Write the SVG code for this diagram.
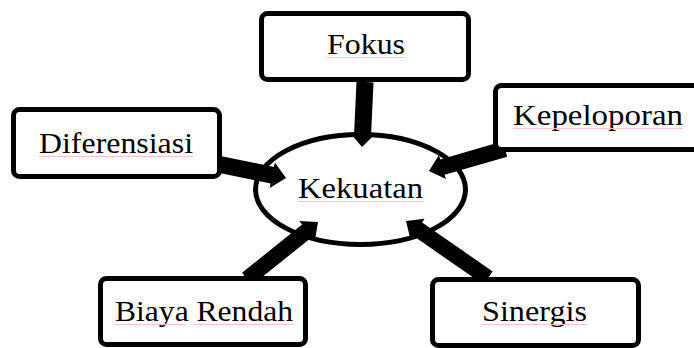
<svg xmlns="http://www.w3.org/2000/svg" width="694" height="348" viewBox="0 0 694 348">
<style>
.box{fill:#fff;stroke:#000;stroke-width:5}
.lbl{font-size:29px;fill:#000}
.arr{fill:#000;stroke:none}
.sq{stroke:#f8c4c4;stroke-width:1;fill:none}
</style>
<rect width="694" height="348" fill="#fff"/>
<g id="kekuatan">
<ellipse class="box" cx="360.5" cy="189.5" rx="105" ry="55"/>
</g>
<g id="connectors">
<polygon class="arr" points="356.5,81.6 354.1,133.6 350.6,133.4 362,147 374.6,134.6 371.1,134.4 373.5,82.4"/>
<polygon class="arr" points="218.3,172.8 270.6,183.5 269.7,187.9 286,178 274.9,162.5 274.0,166.9 221.7,156.2"/>
<polygon class="arr" points="502.8,141.3 440.2,159.4 438.9,155.1 429,171 445.9,179.1 444.6,174.8 507.2,156.7"/>
<polygon class="arr" points="252.0,285.2 312.1,237.0 314.9,240.5 318,222 299.3,221.1 302.1,224.6 242.0,272.8"/>
<polygon class="arr" points="492.6,271.4 422.1,222.4 424.6,218.7 406,221 410.4,239.3 412.9,235.6 483.4,284.6"/>
</g>
<g id="fokus">
<rect class="box" x="261.5" y="13.5" width="207" height="66" rx="6"/>
<text class="lbl" font-family="Liberation Serif, serif" x="327" y="54" textLength="78" lengthAdjust="spacingAndGlyphs">Fokus</text>
<line class="sq" x1="327" y1="57.5" x2="405" y2="57.5"/>
</g>
<g id="diferensiasi">
<rect class="box" x="13.5" y="109.5" width="206" height="67" rx="6"/>
<text class="lbl" font-family="Liberation Serif, serif" x="39" y="153" textLength="154" lengthAdjust="spacingAndGlyphs">Diferensiasi</text>
<line class="sq" x1="39" y1="156.5" x2="193" y2="156.5"/>
</g>
<g id="kepeloporan">
<rect class="box" x="495.5" y="85.5" width="210" height="64" rx="6"/>
<text class="lbl" font-family="Liberation Serif, serif" x="513" y="125" textLength="170" lengthAdjust="spacingAndGlyphs">Kepeloporan</text>
<line class="sq" x1="513" y1="128.5" x2="683" y2="128.5"/>
</g>
<g id="kekuatan-label">
<text class="lbl" font-family="Liberation Serif, serif" x="298" y="198" textLength="125" lengthAdjust="spacingAndGlyphs">Kekuatan</text>
<line class="sq" x1="298" y1="201.5" x2="423" y2="201.5"/>
</g>
<g id="biaya-rendah">
<rect class="box" x="100.5" y="278.5" width="205" height="66" rx="6"/>
<text class="lbl" font-family="Liberation Serif, serif" x="115" y="321" textLength="178" lengthAdjust="spacingAndGlyphs">Biaya Rendah</text>
<line class="sq" x1="115" y1="324.5" x2="186" y2="324.5"/>
<line class="sq" x1="194" y1="324.5" x2="293" y2="324.5"/>
</g>
<g id="sinergis">
<rect class="box" x="432.5" y="279.5" width="206" height="66" rx="6"/>
<text class="lbl" font-family="Liberation Serif, serif" x="482" y="321" textLength="105" lengthAdjust="spacingAndGlyphs">Sinergis</text>
<line class="sq" x1="482" y1="324.5" x2="587" y2="324.5"/>
</g>
</svg>
